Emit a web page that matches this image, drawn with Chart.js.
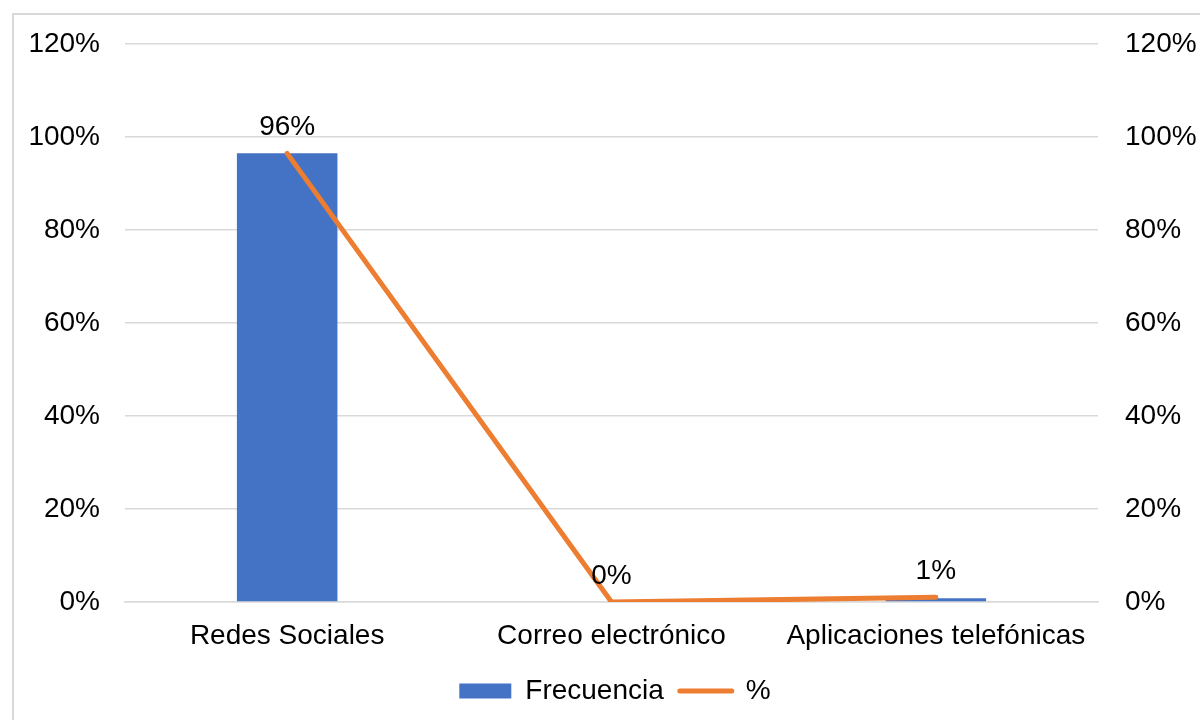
<!DOCTYPE html>
<html>
<head>
<meta charset="utf-8">
<script src="https://cdn.jsdelivr.net/npm/chart.js@4/dist/chart.umd.min.js"></script>
<style>
  html, body { margin: 0; padding: 0; background: #fff; overflow: hidden; }
  #frame { position: absolute; left: 12px; top: 13px; width: 1300px; height: 800px; border: 2px solid #d9d9d9; box-sizing: border-box; }
  #wrap { position: absolute; left: 0; top: 0; width: 1200px; height: 720px; }
</style>
</head>
<body>
<div id="frame"></div>
<div id="wrap"><canvas id="c" width="1200" height="720"></canvas></div>
<script>
const categories = ['Redes Sociales', 'Correo electrónico', 'Aplicaciones telefónicas'];
const frecuencia = [96.45, 0, 0.8];
const porcentaje = [96.45, 0, 1.0];
const seriesNames = ['Frecuencia', '%'];
const yTicks = [0, 20, 40, 60, 80, 100, 120];

const FONT = 'Liberation Sans, Arial, sans-serif';

const labelPlugin = {
  id: 'lineLabels',
  afterDatasetsDraw(chart) {
    const ctx = chart.ctx;
    const meta = chart.getDatasetMeta(1);
    ctx.save();
    ctx.font = '28px ' + FONT;
    ctx.fillStyle = '#000';
    ctx.textAlign = 'center';
    ctx.textBaseline = 'middle';
    meta.data.forEach((pt, i) => {
      ctx.fillText(Math.round(porcentaje[i]) + '%', pt.x, pt.y - 26);
    });
    ctx.restore();
  }
};

new Chart(document.getElementById('c'), {
  data: {
    labels: categories,
    datasets: [
      {
        type: 'bar',
        label: seriesNames[0],
        data: frecuencia,
        backgroundColor: '#4472C4',
        yAxisID: 'y',
        barPercentage: 0.31,
        categoryPercentage: 1,
        order: 1
      },
      {
        type: 'line',
        label: seriesNames[1],
        data: porcentaje,
        borderColor: '#ED7D31',
        backgroundColor: '#ED7D31',
        borderWidth: 5,
        borderCapStyle: 'round',
        borderJoinStyle: 'round',
        pointRadius: 0,
        tension: 0,
        yAxisID: 'y1',
        order: 0
      }
    ]
  },
  options: {
    responsive: false,
    animation: false,
    layout: { padding: { top: 29, left: 30, right: 0, bottom: 5 } },
    plugins: {
      tooltip: { enabled: false },
      legend: {
        position: 'bottom',
        labels: {
          font: { size: 28, family: FONT },
          color: '#000',
          usePointStyle: true,
          pointStyleWidth: 52,
          boxHeight: 15,
          padding: 16,
          sort: (a, b) => a.datasetIndex - b.datasetIndex,
          generateLabels(chart) {
            return chart.data.datasets.map((ds, i) => ({
              text: ds.label,
              datasetIndex: i,
              fillStyle: i === 0 ? '#4472C4' : '#ED7D31',
              strokeStyle: i === 0 ? '#4472C4' : '#ED7D31',
              lineWidth: i === 0 ? 0 : 5,
              lineCap: 'round',
              pointStyle: i === 0 ? 'rect' : 'line',
              fontColor: '#000',
              hidden: false
            }));
          }
        }
      }
    },
    scales: {
      x: {
        offset: true,
        grid: { display: false, drawTicks: false },
        border: { display: true, color: '#d9d9d9', width: 1.5 },
        ticks: { font: { size: 28, family: FONT }, color: '#000', padding: 17, maxRotation: 0 },
        afterFit(s) { s.height = 59; }
      },
      y: {
        position: 'left',
        min: 0, max: 120,
        afterBuildTicks(s) { s.ticks = yTicks.map(v => ({ value: v })); },
        grid: { color: '#d9d9d9', lineWidth: 1.5, drawTicks: false },
        border: { display: false },
        ticks: { font: { size: 28, family: FONT }, color: '#000', padding: 25, callback: v => v + '%' },
        afterFit(s) { s.width = 95; }
      },
      y1: {
        position: 'right',
        min: 0, max: 120,
        afterBuildTicks(s) { s.ticks = yTicks.map(v => ({ value: v })); },
        grid: { display: false, drawTicks: false },
        border: { display: false },
        ticks: { font: { size: 28, family: FONT }, color: '#000', padding: 27, callback: v => v + '%' },
        afterFit(s) { s.width = 102; }
      }
    }
  },
  plugins: [labelPlugin]
});
</script>
</body>
</html>
